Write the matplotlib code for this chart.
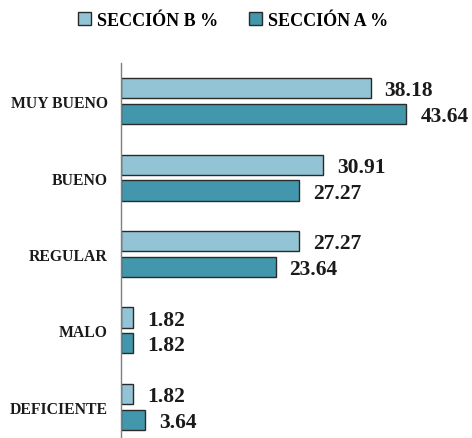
import matplotlib
matplotlib.use("Agg")
import matplotlib.pyplot as plt
import numpy as np

categories = ["MUY BUENO", "BUENO", "REGULAR", "MALO", "DEFICIENTE"]
seccion_b = [38.18, 30.91, 27.27, 1.82, 1.82]
seccion_a = [43.64, 27.27, 23.64, 1.82, 3.64]
series_names = ["SECCIÓN B %", "SECCIÓN A %"]

color_b = "#93C4D5"
color_a = "#4297AD"
edge = "#2a2a2a"

plt.rcParams['font.family'] = ['Liberation Serif', 'DejaVu Serif']
plt.rcParams['font.weight'] = 'bold'

fig = plt.figure(figsize=(4.72, 4.39), dpi=100)
ax = fig.add_axes([121/472, 1 - 64/439 - 382/439, 327/472, 382/439])

y = np.arange(len(categories))
h = 0.265
off = 0.168
bars_b = ax.barh(y - off, seccion_b, height=h, color=color_b, edgecolor=edge, linewidth=1.0, label=series_names[0])
bars_a = ax.barh(y + off, seccion_a, height=h, color=color_a, edgecolor=edge, linewidth=1.0, label=series_names[1])

for bars, vals in ((bars_b, seccion_b), (bars_a, seccion_a)):
    for b, v in zip(bars, vals):
        ax.annotate(f"{v:.2f}", xy=(b.get_width(), b.get_y() + b.get_height() / 2),
                    xytext=(10, -1.5), textcoords="offset points",
                    ha="left", va="center", fontsize=15.5, fontweight="bold", color="#1a1a1a")

ax.set_ylim(len(categories) - 0.5, -0.5)
ax.set_xlim(0, 50)
ax.set_yticks(y)
ax.set_yticklabels(categories, fontsize=11.3, fontweight="bold", color="#1a1a1a")
ax.tick_params(axis="y", length=0, pad=9.5)
ax.set_xticks([])
for s in ("top", "right", "bottom"):
    ax.spines[s].set_visible(False)
ax.spines["left"].set_color("#7f7f7f")
ax.spines["left"].set_linewidth(1.0)

fig.legend(handles=[bars_b, bars_a], labels=series_names, loc="center",
           bbox_to_anchor=(233/472, 1 - 21/439), ncol=2, frameon=False,
           prop={'family': 'Liberation Serif', 'weight': 'bold', 'size': 13},
           handlelength=0.75, handleheight=0.75, handletextpad=0.3, columnspacing=1.7)

fig.savefig("out.png", dpi=100)
